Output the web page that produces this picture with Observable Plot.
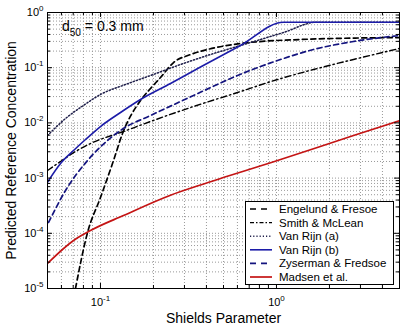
<!DOCTYPE html>
<html><head><meta charset="utf-8">
<script src="https://cdn.jsdelivr.net/npm/d3@7"></script>
<script src="https://cdn.jsdelivr.net/npm/@observablehq/plot@0.6"></script>
<style>
body{margin:0;background:#fff;}
#chart{position:relative;width:400px;height:326px;overflow:hidden;}
</style></head><body><div id="chart"></div>
<script>
// Series names (legend order)
const seriesNames = ["Engelund & Fresoe","Smith & McLean","Van Rijn (a)","Van Rijn (b)","Zyserman & Fredsoe","Madsen et al."];

// Values (Shields parameter vs reference concentration)
const efTheta = [0.0721,0.0844,0.1,0.1186,0.1334,0.1688,0.1924,0.2193,0.2601,0.3247,0.4056,0.6246,1.369,5];
const efConc  = [1e-5,1.03e-4,4.45e-4,2.08e-3,6.43e-3,0.0255,0.042,0.0664,0.124,0.173,0.214,0.274,0.324,0.352];

const smTheta = [0.05,0.0593,0.0721,0.0877,0.1351,0.1924,0.3378,0.6006,1.0135,1.623,2.740,5];
const smConc  = [1.37e-3,2.0e-3,3.03e-3,4.23e-3,6.98e-3,0.0106,0.0198,0.0355,0.0611,0.0927,0.141,0.223];

const vraTheta = [0.05,0.0633,0.080,0.1,0.1387,0.1924,0.285,0.4217,0.712,1.096,1.689,5];
const vraConc  = [5.9e-3,0.0120,0.0207,0.0327,0.0496,0.0722,0.1143,0.1735,0.286,0.434,0.667,0.667];

const vrbTheta = [0.05,0.0593,0.0703,0.0822,0.1,0.130,0.1688,0.25,0.37,0.6246,1.096,5];
const vrbConc  = [8.43e-4,1.84e-3,3.16e-3,5.0e-3,8.6e-3,0.01542,0.0265,0.0517,0.103,0.2525,0.667,0.667];

const zfTheta = [0.0507,0.0633,0.0844,0.1096,0.1351,0.1924,0.3378,0.6006,1.0135,1.623,2.740,5];
const zfConc  = [1.57e-4,5.96e-4,2.08e-3,4.8e-3,7.92e-3,0.0136,0.0314,0.0722,0.135,0.2137,0.2983,0.383];

const maTheta = [0.05,0.0703,0.0877,0.1351,0.25,0.37,1.0135,2.740,5];
const maConc  = [2.84e-5,7.41e-5,1.12e-4,2.10e-4,4.9e-4,7.5e-4,2.08e-3,5.91e-3,0.0110];

// Tick values
const xMajor = [0.1, 1];
const yMajor = [1e-5,1e-4,1e-3,1e-2,1e-1,1];
const xGrid = [0.06,0.07,0.08,0.09,0.1,0.2,0.3,0.4,0.5,0.6,0.7,0.8,0.9,1,2,3,4];
const yGrid = [];
for (let k = -5; k <= -1; k++) for (let m = 1; m <= 9; m++) yGrid.push(m * Math.pow(10, k));
yGrid.push(1);
const xMinor = xGrid.filter(v => !xMajor.includes(v));
const yMinor = yGrid.filter(v => !yMajor.some(t => Math.abs(t - v) < t * 1e-9));

// Styles
const styles = [
  {stroke: "#000", strokeWidth: 1.7, dash: "5,3.5", legendDash: "6,5"},
  {stroke: "#000", strokeWidth: 1.4, dash: "6,3,1.5,3", legendDash: "4,2,1.5,2"},
  {stroke: "#1e1e4a", strokeWidth: 1.5, dash: "1.2,2", legendDash: "1.2,2"},
  {stroke: "#1c1ca8", strokeWidth: 1.6, dash: null, legendDash: null},
  {stroke: "#14147e", strokeWidth: 1.7, dash: "5,3.5", legendDash: "6,5"},
  {stroke: "#c41414", strokeWidth: 1.7, dash: null, legendDash: null}
];

const thetas = [efTheta, smTheta, vraTheta, vrbTheta, zfTheta, maTheta];
const concs = [efConc, smConc, vraConc, vrbConc, zfConc, maConc];
const series = seriesNames.map((name, i) => thetas[i].map((t, j) => ({name, theta: t, c: concs[i][j]})));

const fmt = d => `10^${Math.round(Math.log10(d))}`;

const lineMarks = series.map((data, i) => Plot.line(data, {
  x: "theta", y: "c", stroke: styles[i].stroke, strokeWidth: styles[i].strokeWidth,
  strokeDasharray: styles[i].dash, curve: "monotone-x", clip: true
}));

const chart = Plot.plot({
  width: 400, height: 326,
  marginLeft: 47, marginRight: 1, marginTop: 12, marginBottom: 38,
  style: {fontFamily: "'Liberation Sans', Arial, Helvetica, sans-serif", fontSize: "11px", background: "#fff", color: "#000"},
  x: {type: "log", domain: [0.05, 5]},
  y: {type: "log", domain: [1e-5, 1]},
  marks: [
    Plot.ruleX(xGrid, {stroke: "#999", strokeDasharray: "1,2", strokeWidth: 1}),
    Plot.ruleY(yGrid, {stroke: "#999", strokeDasharray: "1,2", strokeWidth: 1}),
    ...lineMarks,
    // inside tick marks on all four sides
    Plot.ruleX(xMajor, {insetTop: 271, stroke: "#000"}),
    Plot.ruleX(xMajor, {insetBottom: 271, stroke: "#000"}),
    Plot.ruleX(xMinor, {insetTop: 273, stroke: "#000"}),
    Plot.ruleX(xMinor, {insetBottom: 273, stroke: "#000"}),
    Plot.ruleY(yMajor, {insetRight: 347, stroke: "#000"}),
    Plot.ruleY(yMajor, {insetLeft: 347, stroke: "#000"}),
    Plot.ruleY(yMinor, {insetRight: 349, stroke: "#000"}),
    Plot.ruleY(yMinor, {insetLeft: 349, stroke: "#000"}),
    Plot.frame({stroke: "#000"}),
    Plot.axisX({ticks: xMajor, tickSize: 0, tickPadding: 10, tickFormat: fmt, label: null, fontSize: 11}),
    Plot.axisY({ticks: yMajor, tickSize: 0, tickPadding: 4, tickFormat: fmt, label: null, fontSize: 11}),
    Plot.text(["Shields Parameter"], {text: d => d, frameAnchor: "bottom", dy: 34, lineAnchor: "bottom", textAnchor: "middle", fontSize: 14}),
    Plot.text(["Predicted Reference Concentration"], {text: d => d, frameAnchor: "left", dx: -36, rotate: -90, lineAnchor: "middle", textAnchor: "middle", fontSize: 14})
  ]
});

document.getElementById("chart").appendChild(chart);

// superscript exponents in tick labels
const NS = "http://www.w3.org/2000/svg";
chart.querySelectorAll("text").forEach(t => {
  const m = /^10\^(-?\d+)$/.exec(t.textContent);
  if (!m) return;
  t.textContent = "10";
  const s = document.createElementNS(NS, "tspan");
  s.setAttribute("dy", "-5");
  s.setAttribute("font-size", "8px");
  s.textContent = m[1];
  t.appendChild(s);
});

const svg = d3.select(chart);
// annotation d50 = 0.3 mm
const ann = svg.append("text").attr("x", 62).attr("y", 31).attr("font-size", 14)
  .attr("text-anchor", "start").attr("fill", "#000");
ann.append("tspan").text("d");
ann.append("tspan").attr("dy", 5).attr("font-size", 10).text("50");
ann.append("tspan").attr("dy", -5).text(" = 0.3 mm");

// legend
const lg = svg.append("g").attr("text-anchor", "start");
lg.append("rect").attr("x", 245.5).attr("y", 201.5).attr("width", 148).attr("height", 83)
  .attr("fill", "#fff").attr("stroke", "#000");
seriesNames.forEach((name, i) => {
  const y = 209 + i * 13.6;
  const ln = lg.append("line").attr("x1", 250).attr("x2", 272).attr("y1", y).attr("y2", y)
    .attr("stroke", styles[i].stroke).attr("stroke-width", styles[i].strokeWidth);
  if (styles[i].legendDash) ln.attr("stroke-dasharray", styles[i].legendDash);
  lg.append("text").attr("x", 279).attr("y", y + 4).attr("font-size", 11.5)
    .attr("text-anchor", "start").attr("fill", "#000").text(name);
});
</script>
</body></html>
